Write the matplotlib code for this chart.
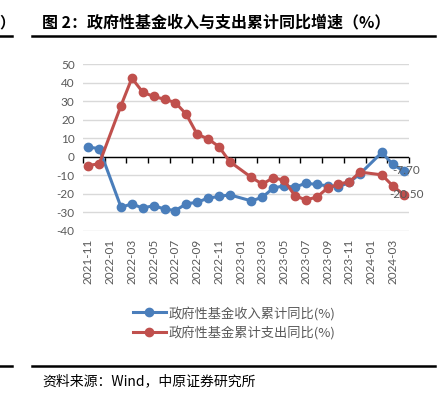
import matplotlib
matplotlib.use("Agg")
import matplotlib.pyplot as plt
from matplotlib.lines import Line2D

plt.rcParams['font.family'] = ['Noto Sans CJK SC', 'DejaVu Sans']

# ---------------- data ----------------
months = ["2021-11", "2021-12", "2022-01", "2022-02", "2022-03", "2022-04", "2022-05",
          "2022-06", "2022-07", "2022-08", "2022-09", "2022-10", "2022-11", "2022-12",
          "2023-01", "2023-02", "2023-03", "2023-04", "2023-05", "2023-06", "2023-07",
          "2023-08", "2023-09", "2023-10", "2023-11", "2023-12", "2024-01", "2024-02",
          "2024-03", "2024-04"]
income = [5.2, 4.4, None, -27.3, -25.5, -27.8, -26.4, -28.3, -29.1, -25.5, -24.6,
          -22.4, -21.5, -20.6, None, -23.9, -21.9, -17.0, -15.7, -16.5, -14.3, -15.0,
          -15.7, -16.3, -13.9, -9.2, None, 2.3, -4.0, -7.70]
expense = [-4.8, -3.7, None, 27.7, 42.5, 34.9, 32.6, 31.1, 29.3, 23.0, 12.2, 9.7,
           5.5, -2.6, None, -11.2, -14.8, -11.4, -12.7, -21.1, -23.3, -21.9, -17.0,
           -14.8, -13.6, -8.3, None, -9.8, -15.7, -20.50]
series_names = ["政府性基金收入累计同比(%)", "政府性基金累计支出同比(%)"]
colors = ["#4a7ebb", "#c0504d"]
yticks = list(range(-40, 51, 10))

title = "图 2：政府性基金收入与支出累计同比增速（%）"
source = "资料来源：Wind，中原证券研究所"

# ---------------- figure ----------------
W, H = 440, 394
fig = plt.figure(figsize=(W / 100, H / 100), dpi=100)
ax = fig.add_axes([83 / W, 1 - 230.7 / H, (409 - 83) / W, (230.7 - 64.3) / H])

ymin, ymax = -40, 50
ax.set_ylim(ymin, ymax)
ax.set_xlim(-0.5, len(months) - 0.5)

for s in ax.spines.values():
    s.set_visible(False)

ax.set_yticks(yticks)
ax.set_yticklabels([str(v) for v in yticks], fontfamily='Lato', fontsize=8.5, color='#595959')
ax.tick_params(axis='y', length=0, pad=6)
ax.grid(axis='y', color='#d9d9d9', linewidth=1.0)
ax.set_axisbelow(True)

label_idx = list(range(0, len(months), 2))
ax.set_xticks(label_idx)
ax.set_xticklabels([months[i] for i in label_idx], rotation=90, fontfamily='Lato',
                   fontsize=8.5, color='#595959')
ax.tick_params(axis='x', length=0, pad=6)

ax.axhline(0, color='black', linewidth=1.0, zorder=2)
sec = ax.secondary_xaxis((0 - ymin) / (ymax - ymin))
sec.set_xticks([i - 0.5 for i in range(0, len(months) + 1, 2)])
sec.set_xticklabels([])
sec.tick_params(axis='x', direction='out', length=4, width=1.0, color='black')
sec.spines['bottom'].set_visible(False)

handles = []
for vals, c, name in zip([income, expense], colors, series_names):
    xs = [i for i, v in enumerate(vals) if v is not None]
    ys = [v for v in vals if v is not None]
    ln, = ax.plot(xs, ys, color=c, linewidth=2.2, marker='o', markersize=6,
                  markeredgecolor=c, markerfacecolor=c, zorder=3, clip_on=False)
    handles.append(ln)
    ax.annotate(f"{ys[-1]:.2f}", (xs[-1], ys[-1]), xytext=(2, 0), textcoords='offset points',
                ha='center', va='center', fontfamily='Lato', fontsize=8.5, color='#595959',
                zorder=4)

leg = fig.legend(handles, series_names, loc='center', bbox_to_anchor=(234 / W, 1 - 323 / H),
                 ncol=1, frameon=False, fontsize=9.5, labelcolor='#595959',
                 handlelength=2.5, handletextpad=0.2, labelspacing=0.45)

# title and rules
fig.text(42 / W, 1 - 22 / H, title, fontsize=11.5, fontweight='bold', color='black',
         ha='left', va='center')
fig.text(-1 / W, 1 - 22 / H, "）", fontsize=11, fontweight='bold', color='black',
         ha='left', va='center')
for y in (35.5, 365.5):
    fig.add_artist(Line2D([32 / W, 435 / W], [1 - y / H, 1 - y / H], color='black', linewidth=1.8))
    fig.add_artist(Line2D([0, 12 / W], [1 - y / H, 1 - y / H], color='black', linewidth=1.8))
fig.text(42 / W, 1 - 381 / H, source, fontsize=10, color='black', ha='left', va='center')

fig.savefig("out.png", dpi=100)
